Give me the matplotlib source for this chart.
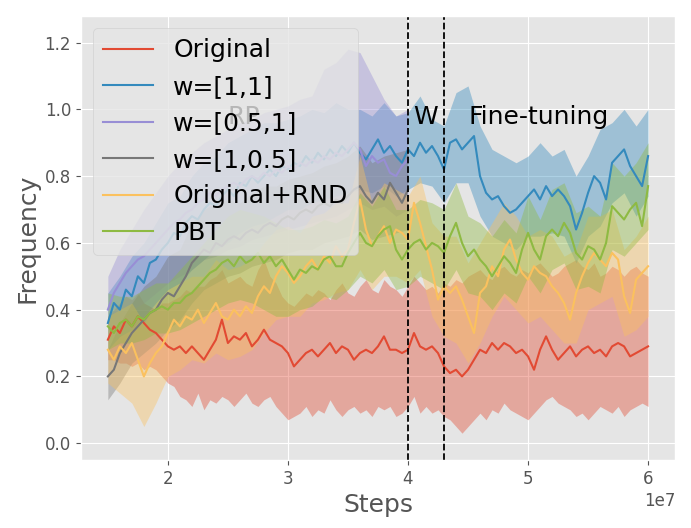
import numpy as np
import matplotlib
matplotlib.use("Agg")
import matplotlib.pyplot as plt

plt.style.use("ggplot")

# steps for the mean lines (every 0.5M) and for the bands (every 1M)
x_line = np.linspace(1.5e7, 6.0e7, 91)
x_band = np.linspace(1.5e7, 6.0e7, 46)
x_line_short = np.linspace(1.5e7, 4.0e7, 51)
x_band_short = np.linspace(1.5e7, 4.0e7, 26)

orig = [.31, .35, .33, .37, .35, .38, .36, .34, .33, .31, .29, .28, .29, .27, .29, .27, .25, .28, .31, .37,
        .30, .32, .31, .33, .29, .31, .34, .31, .30, .29, .27, .23, .25, .27, .28, .26, .28, .30, .27, .29,
        .28, .25, .27, .28, .27, .29, .32, .28, .28, .27, .28, .33, .29, .28, .29, .27, .23, .21, .22, .20,
        .22, .25, .28, .27, .30, .28, .30, .29, .27, .28, .26, .22, .28, .32, .28, .25, .27, .29, .26, .28,
        .29, .27, .28, .26, .29, .30, .29, .26, .27, .28, .29]
# the red band is read at the finer step (its edges are well visible)
orig_lo = [.25, .25, .24, .24, .23, .24, .22, .23, .22, .20, .18, .17, .14, .13, .11, .15, .10, .13, .12, .14,
           .13, .11, .13, .15, .12, .11, .13, .14, .11, .09, .07, .08, .09, .11, .08, .10, .09, .13, .10, .08,
           .10, .11, .09, .10, .08, .11, .10, .11, .08, .09, .11, .14, .09, .11, .09, .10, .08, .07, .05, .03,
           .05, .07, .09, .07, .10, .09, .12, .10, .09, .08, .07, .09, .11, .13, .14, .12, .11, .10, .08, .09,
           .07, .09, .11, .10, .09, .11, .08, .10, .11, .12, .11]
orig_hi = [.38, .40, .42, .44, .43, .45, .42, .41, .40, .42, .42, .43, .44, .46, .45, .47, .47, .49, .50, .52,
           .48, .49, .50, .48, .47, .52, .55, .50, .48, .44, .42, .41, .43, .45, .44, .46, .45, .43, .46, .48,
           .45, .44, .47, .49, .46, .45, .49, .47, .46, .44, .47, .50, .48, .46, .47, .45, .48, .47, .49, .48,
           .50, .51, .52, .50, .49, .52, .53, .51, .50, .52, .51, .53, .54, .52, .50, .51, .53, .54, .55, .53,
           .52, .54, .50, .51, .53, .52, .50, .52, .53, .51, .50]

w11 = [.36, .42, .40, .46, .44, .50, .48, .54, .55, .58, .60, .63, .62, .66, .68, .67, .70, .72, .71, .74,
       .76, .74, .78, .77, .80, .78, .80, .82, .80, .83, .82, .84, .83, .86, .84, .87, .85, .88, .86, .89,
       .87, .90, .87, .85, .88, .91, .87, .89, .86, .84, .88, .86, .90, .87, .89, .86, .82, .90, .91, .88,
       .90, .92, .80, .75, .73, .74, .71, .69, .70, .72, .74, .76, .73, .77, .74, .76, .74, .71, .64, .69,
       .75, .80, .78, .73, .84, .86, .88, .83, .80, .77, .86]
w11_lo = [.28, .32, .34, .38, .42, .46, .48, .52, .55, .58, .60, .63, .65, .66, .68, .70, .70, .72, .73, .74,
          .75, .76, .75, .77, .74, .76, .78, .77, .72, .78, .78, .68, .62, .60, .58, .62, .62, .63, .62, .54,
          .62, .65, .72, .75, .68, .74]
w11_hi = [.45, .50, .56, .60, .66, .72, .74, .80, .84, .86, .90, .92, .94, .96, .96, .97, .98, 1.00, .99, 1.02,
          1.00, 1.00, .98, 1.02, .98, .99, 1.04, .97, .95, 1.05, 1.07, .95, .88, .86, .84, .86, .90, .86, .88, .80,
          .86, .94, .96, 1.00, .95, 1.00]

w051 = [.40, .45, .48, .51, .53, .55, .56, .58, .60, .62, .64, .66, .67, .69, .70, .72, .73, .75, .74, .76,
        .77, .78, .77, .79, .80, .79, .81, .80, .82, .81, .83, .82, .84, .83, .85, .84, .86, .85, .87, .86,
        .88, .90, .88, .83, .86, .84, .85, .81, .80, .83, .85]
w051_lo = [.32, .36, .40, .42, .45, .48, .50, .52, .55, .56, .58, .59, .61, .62, .63, .64, .65, .66, .67, .68,
           .70, .72, .70, .71, .68, .70]
w051_hi = [.50, .58, .64, .70, .75, .80, .84, .87, .90, .92, .94, .96, .97, .99, 1.00, 1.01, 1.03, 1.04, 1.12, 1.14,
           1.18, 1.17, 1.10, 1.03, .98, 1.00]

w105 = [.20, .22, .27, .30, .33, .35, .37, .39, .40, .43, .45, .44, .47, .50, .54, .56, .58, .57, .60, .59,
        .61, .62, .61, .63, .64, .63, .65, .66, .65, .67, .68, .67, .69, .70, .69, .71, .72, .71, .73, .72,
        .74, .76, .77, .74, .72, .75, .73, .78, .75, .72, .76]
w105_lo = [.13, .18, .24, .27, .30, .34, .37, .42, .46, .48, .50, .51, .53, .54, .55, .57, .58, .58, .60, .61,
           .62, .64, .61, .62, .63, .64]
w105_hi = [.28, .36, .42, .47, .50, .56, .58, .66, .70, .72, .73, .72, .75, .77, .77, .79, .80, .81, .83, .84,
           .86, .89, .84, .86, .87, .88]

rnd = [.28, .25, .29, .27, .30, .25, .20, .24, .27, .29, .33, .37, .35, .38, .37, .40, .36, .39, .42, .38,
       .37, .40, .38, .41, .39, .44, .47, .45, .50, .53, .51, .48, .50, .53, .55, .52, .56, .54, .59, .56,
       .58, .66, .73, .64, .59, .62, .65, .60, .64, .63, .61, .72, .66, .59, .52, .43, .47, .45, .47, .43,
       .38, .33, .45, .47, .53, .50, .58, .61, .55, .51, .49, .53, .51, .50, .47, .45, .42, .37, .45, .50,
       .54, .57, .55, .53, .57, .55, .44, .39, .49, .51, .53]
rnd_lo = [.18, .15, .12, .05, .12, .20, .22, .25, .24, .27, .25, .26, .28, .33, .37, .38, .38, .42, .43, .45,
          .46, .52, .46, .50, .50, .48, .52, .38, .32, .30, .24, .30, .38, .44, .40, .36, .38, .34, .30, .30,
          .40, .42, .44, .32, .34, .38]
rnd_hi = [.38, .40, .42, .36, .42, .46, .48, .50, .50, .55, .52, .53, .55, .60, .64, .65, .63, .68, .69, .72,
          .72, .86, .72, .78, .76, .74, .80, .66, .62, .62, .54, .60, .66, .72, .68, .62, .64, .62, .56, .58,
          .68, .68, .70, .58, .62, .68]

pbt = [.35, .33, .36, .37, .35, .38, .37, .39, .40, .41, .40, .42, .42, .44, .45, .47, .49, .51, .52, .54,
       .55, .53, .56, .54, .55, .57, .54, .56, .53, .55, .52, .49, .52, .51, .53, .52, .55, .56, .53, .53,
       .57, .60, .63, .60, .59, .62, .64, .65, .58, .55, .58, .60, .61, .58, .60, .59, .57, .62, .66, .60,
       .56, .58, .55, .53, .50, .53, .56, .54, .51, .58, .63, .58, .55, .62, .64, .62, .66, .63, .57, .55,
       .59, .58, .55, .60, .71, .69, .67, .70, .72, .65, .77]
pbt_lo = [.28, .30, .30, .31, .33, .33, .34, .36, .38, .40, .42, .43, .42, .40, .38, .38, .40, .41, .44, .43,
          .46, .50, .48, .52, .46, .47, .50, .48, .46, .52, .45, .44, .40, .45, .42, .50, .45, .52, .54, .46,
          .47, .45, .58, .56, .60, .64]
pbt_hi = [.45, .44, .44, .46, .48, .48, .52, .56, .60, .64, .68, .70, .69, .68, .66, .64, .64, .65, .67, .66,
          .68, .75, .71, .77, .70, .70, .73, .72, .70, .78, .68, .66, .62, .67, .63, .74, .67, .76, .78, .69,
          .71, .68, .84, .80, .84, .90]

labels = ["Original", "w=[1,1]", "w=[0.5,1]", "w=[1,0.5]", "Original+RND", "PBT"]
colors = ["#E24A33", "#348ABD", "#988ED5", "#777777", "#FBC15E", "#8EBA42"]
series = [
    (x_line, orig, x_line, orig_lo, orig_hi),
    (x_line, w11, x_band, w11_lo, w11_hi),
    (x_line_short, w051, x_band_short, w051_lo, w051_hi),
    (x_line_short, w105, x_band_short, w105_lo, w105_hi),
    (x_line, rnd, x_band, rnd_lo, rnd_hi),
    (x_line, pbt, x_band, pbt_lo, pbt_hi),
]

fig, ax = plt.subplots(figsize=(6.91, 5.28), dpi=100)
fig.subplots_adjust(left=0.117, right=0.977, bottom=0.129, top=0.970)

for (xl, m, xb, lo, hi), lab, c in zip(series, labels, colors):
    ax.fill_between(xb, lo, hi, color=c, alpha=0.4, linewidth=0, zorder=1)
    ax.plot(xl, m, color=c, lw=1.5, label=lab, zorder=2)

ax.axvline(4.0e7, color="black", ls="--", lw=1.3)
ax.axvline(4.3e7, color="black", ls="--", lw=1.3)
ax.text(2.5e7, 0.955, "RP", fontsize=18)
ax.text(4.04e7, 0.955, "W", fontsize=18)
ax.text(4.5e7, 0.955, "Fine-tuning", fontsize=18)

ax.set_ylim(-0.05, 1.28)
ax.set_yticks([0.0, 0.2, 0.4, 0.6, 0.8, 1.0, 1.2])
ax.tick_params(labelsize=12)
ax.xaxis.get_offset_text().set_fontsize(12)
ax.set_xlabel("Steps", fontsize=18)
ax.set_ylabel("Frequency", fontsize=18)
ax.legend(loc="upper left", fontsize=18)

fig.savefig("out.png")
